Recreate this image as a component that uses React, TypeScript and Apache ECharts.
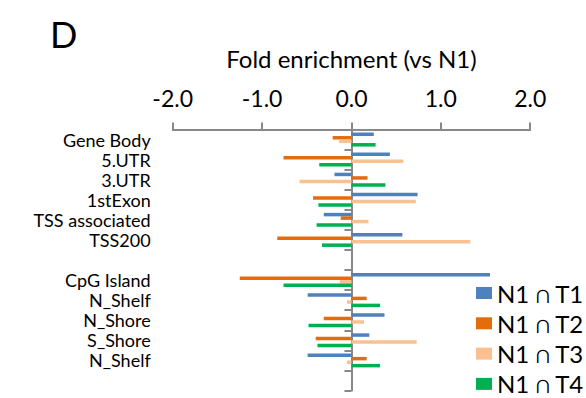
import React, { useEffect, useRef } from "react";
import * as echarts from "echarts";

const categories = [
  "Gene Body",
  "5.UTR",
  "3.UTR",
  "1stExon",
  "TSS associated",
  "TSS200",
  "",
  "CpG Island",
  "N_Shelf",
  "N_Shore",
  "S_Shore",
  "N_Shelf",
  "",
];

const seriesNames = ["N1 ∩ T1", "N1 ∩ T2", "N1 ∩ T3", "N1 ∩ T4"];

const t1Values = [0.25, 0.43, -0.19, 0.74, -0.31, 0.57, null, 1.55, -0.49, 0.37, 0.2, -0.49, null];
const t2Values = [-0.21, -0.76, 0.18, -0.43, -0.12, -0.83, null, -1.25, 0.17, -0.31, -0.4, 0.17, null];
const t3Values = [-0.14, 0.58, -0.58, 0.72, 0.19, 1.33, null, -0.13, -0.05, 0.14, 0.73, -0.05, null];
const t4Values = [0.27, -0.36, 0.38, -0.37, -0.39, -0.33, null, -0.76, 0.32, -0.48, -0.38, 0.32, null];

const colors = ["#4F81BD", "#E46C0A", "#FAC090", "#00B050"];

export default function App() {
  const ref = useRef<HTMLDivElement>(null);
  useEffect(() => {
    if (!ref.current) return;
    const chart = echarts.init(ref.current, null, { renderer: "svg" });
    const font = "Lato, 'Noto Sans', sans-serif";
    const allData = [t1Values, t2Values, t3Values, t4Values];
    chart.setOption({
      animation: false,
      textStyle: { fontFamily: font },
      graphic: [
        {
          type: "text",
          left: 50,
          top: 16,
          style: { text: "D", fontSize: 36, fontFamily: font, fill: "#000" },
        },
      ],
      legend: {
        orient: "vertical",
        left: 476,
        top: 281,
        padding: 0,
        itemWidth: 16,
        itemHeight: 12,
        itemGap: 6.3,
        icon: "rect",
        textStyle: { fontSize: 24, lineHeight: 24, color: "#000", fontFamily: font },
        data: seriesNames,
      },
      grid: {
        left: 172.7,
        top: 129.5,
        width: 357.5,
        height: 261,
        containLabel: false,
        outerBoundsMode: "none",
      },
      xAxis: {
        type: "value",
        position: "top",
        min: -2,
        max: 2,
        interval: 1,
        name: "Fold enrichment (vs N1)",
        nameLocation: "middle",
        nameGap: 59,
        nameTextStyle: { fontSize: 24, color: "#000", fontFamily: font },
        axisLine: { show: true, lineStyle: { color: "#888", width: 2 } },
        axisTick: { show: true, length: 7, lineStyle: { color: "#888", width: 2 } },
        axisLabel: {
          fontSize: 23,
          color: "#000",
          margin: 20,
          fontFamily: font,
          formatter: (v: number) => v.toFixed(1),
        },
        splitLine: { show: false },
      },
      yAxis: {
        type: "category",
        inverse: true,
        data: categories,
        axisLine: { show: true, onZero: true, lineStyle: { color: "#888", width: 2 } },
        axisTick: { show: true, length: 7, lineStyle: { color: "#888", width: 2 } },
        axisLabel: { fontSize: 18, color: "#000", margin: 22, fontFamily: font, interval: 0 },
        splitLine: { show: false },
      },
      series: seriesNames.map((name, i) => ({
        name,
        type: "bar",
        data: allData[i],
        barWidth: 3.5,
        barGap: "0%",
        itemStyle: { color: colors[i] },
      })),
    });
    return () => chart.dispose();
  }, []);
  return (
    <div
      ref={ref}
      style={{ position: "fixed", left: 0, top: 0, width: 586, height: 398, background: "#fff" }}
    />
  );
}
